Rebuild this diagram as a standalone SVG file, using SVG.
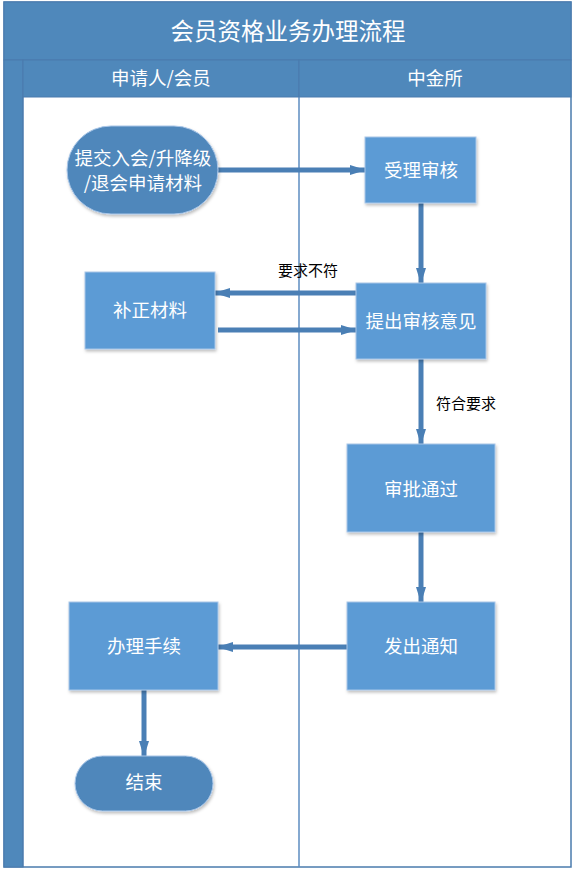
<svg xmlns="http://www.w3.org/2000/svg" width="576" height="875" viewBox="0 0 576 875">
<defs>
<marker id="ah" viewBox="0 0 16 10" refX="15" refY="5" markerWidth="16" markerHeight="10" markerUnits="userSpaceOnUse" orient="auto">
<path d="M0,0 L16,5 L0,10 Z" fill="#4a7fb5"/>
</marker>
<filter id="sh" x="-10%" y="-10%" width="130%" height="130%">
<feDropShadow dx="1" dy="2" stdDeviation="1.5" flood-color="#000" flood-opacity="0.25"/>
</filter>
</defs>
<style>
text{font-family:"Microsoft YaHei","Noto Sans CJK SC",sans-serif;text-anchor:middle;dominant-baseline:central}
.t{fill:#fff;font-size:18.5px}
.lbl{fill:#000;font-size:15px}
.box{fill:#5b9bd5;stroke:#a9c6e8;stroke-width:1;filter:url(#sh)}
.term{fill:#4f87bb;stroke:#a9c6e8;stroke-width:1;filter:url(#sh)}
.c{stroke:#4a7fb5;stroke-width:5;fill:none;marker-end:url(#ah)}
</style>
<rect width="576" height="875" fill="#fff"/>
<g id="frame">
<rect x="4" y="2" width="567" height="865" fill="#fff" stroke="#4a7bad" stroke-width="1.5"/>
<rect x="4" y="2" width="567" height="58" fill="#4f88bb" stroke="#4a7bad" stroke-width="1"/>
<text x="288" y="30" style="fill:#fff;font-size:23.5px">会员资格业务办理流程</text>
<rect x="4" y="60" width="19" height="807" fill="#4f88bb" stroke="#4a7bad" stroke-width="1"/>
<rect x="23" y="60" width="276" height="37" fill="#4f88bb" stroke="#4a7bad" stroke-width="1"/>
<rect x="299" y="60" width="272" height="37" fill="#4f88bb" stroke="#4a7bad" stroke-width="1"/>
<text class="t" x="161" y="77">申请人/会员</text>
<text class="t" x="435" y="77">中金所</text>
<line x1="299" y1="97" x2="299" y2="867" stroke="#5c8cc0" stroke-width="1.5"/>
<line x1="23" y1="97" x2="23" y2="867" stroke="#4a7bad" stroke-width="1"/>
</g>
<g id="connectors">
<line class="c" x1="218" y1="170" x2="365" y2="170"/>
<line class="c" x1="421" y1="203" x2="421" y2="283"/>
<line class="c" x1="356" y1="293" x2="215" y2="293"/>
<line class="c" x1="218" y1="330" x2="356" y2="330"/>
<line class="c" x1="421" y1="359" x2="421" y2="444"/>
<line class="c" x1="421" y1="532" x2="421" y2="602"/>
<line class="c" x1="347" y1="647" x2="218" y2="647"/>
<line class="c" x1="144" y1="690" x2="144" y2="756"/>
<text class="lbl" x="308" y="269">要求不符</text>
<text class="lbl" x="466" y="402">符合要求</text>
</g>
<g id="start">
<rect class="term" x="67" y="126" width="151" height="88" rx="44" ry="44"/>
<text class="t" x="143" y="157">提交入会/升降级</text>
<text class="t" x="143" y="182">/退会申请材料</text>
</g>
<g id="accept">
<rect class="box" x="365" y="137" width="111" height="66"/>
<text class="t" x="421" y="169">受理审核</text>
</g>
<g id="opinion">
<rect class="box" x="356" y="283" width="130" height="76"/>
<text class="t" x="421" y="320">提出审核意见</text>
</g>
<g id="supplement">
<rect class="box" x="85" y="272" width="130" height="77"/>
<text class="t" x="150" y="309">补正材料</text>
</g>
<g id="approve">
<rect class="box" x="347" y="444" width="148" height="88"/>
<text class="t" x="421" y="488">审批通过</text>
</g>
<g id="notify">
<rect class="box" x="347" y="602" width="148" height="88"/>
<text class="t" x="421" y="645">发出通知</text>
</g>
<g id="handle">
<rect class="box" x="69" y="602" width="149" height="88"/>
<text class="t" x="144" y="645">办理手续</text>
</g>
<g id="end">
<rect class="term" x="75" y="756" width="138" height="55" rx="27.5" ry="27.5"/>
<text class="t" x="144" y="781">结束</text>
</g>
</svg>
